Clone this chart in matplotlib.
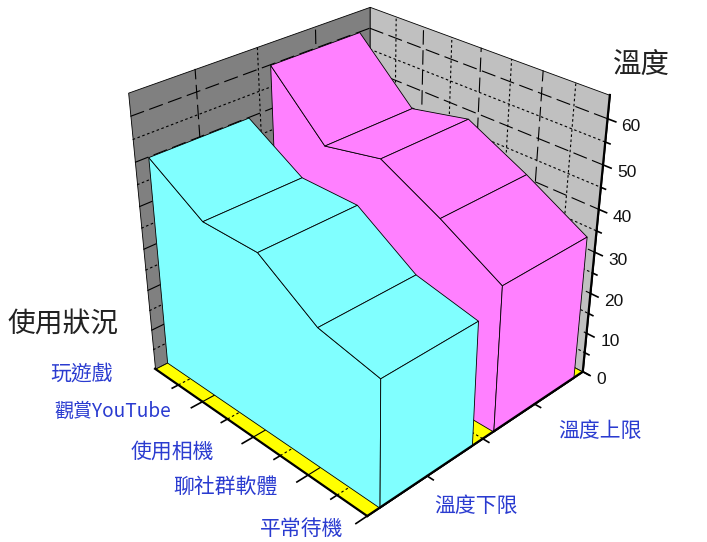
import numpy as np
import matplotlib
matplotlib.use('Agg')
import matplotlib.pyplot as plt
from mpl_toolkits.mplot3d import proj3d
from mpl_toolkits.mplot3d.art3d import Poly3DCollection

plt.rcParams['font.family'] = ['Noto Sans CJK TC', 'DejaVu Sans']

# data
usage = ['玩遊戲', '觀賞YouTube', '使用相機', '聊社群軟體', '平常待機']
series = ['溫度下限', '溫度上限']
temp_low = [50, 42, 42, 33, 30]
temp_high = [60, 47, 50, 43, 35]
z_ticks = [0, 10, 20, 30, 40, 50, 60]

W, H = 707, 542
XMAX, YMAX, ZMAX = 4, 2, 65
LONG = (0, (13, 5))
SHORT = (0, (2.3, 2.3))

fig = plt.figure(figsize=(W/100, H/100), dpi=100)
ax = fig.add_subplot(projection='3d', computed_zorder=False)
ax.set_xlim(0, XMAX, view_margin=0)
ax.set_ylim(0, YMAX, view_margin=0)
ax.set_zlim(0, ZMAX, view_margin=0)
ax.view_init(elev=30.531, azim=-44.508)
ax.set_proj_type('persp', focal_length=0.47)
ax.set_box_aspect((1, 0.994, 0.995))
ax.set_position([92.1/W, 25.3/H, 538.4/W, 538.4/H])
ax.set_axis_off()
ax.patch.set_visible(False)

def poly(verts, color, zorder):
    ax.add_collection3d(Poly3DCollection([verts], facecolor=color, edgecolor='black',
                                         linewidth=0.6, zorder=zorder, clip_on=False))

def line(xs, ys, zs, ls='-', lw=0.8, zorder=2):
    ax.plot(xs, ys, zs, color='black', ls=ls, lw=lw, zorder=zorder, clip_on=False)

# walls and floor
poly([(0, 0, 0), (0, YMAX, 0), (0, YMAX, ZMAX), (0, 0, ZMAX)], '#808080', 1)
poly([(XMAX, YMAX, 0), (0, YMAX, 0), (0, YMAX, ZMAX), (XMAX, YMAX, ZMAX)], '#C0C0C0', 1)
poly([(0, 0, 0), (XMAX, 0, 0), (XMAX, YMAX, 0), (0, YMAX, 0)], '#FFFF00', 1)

# wall grid
for z in np.arange(5, ZMAX, 5):
    ls = LONG if z % 10 == 0 else SHORT
    line([0, 0], [0, YMAX], [z, z], ls)
    line([0, XMAX], [YMAX, YMAX], [z, z], ls)
for y, ls in zip([0.5, 1, 1.5], [LONG, SHORT, LONG]):
    line([0, 0], [y, y], [0, ZMAX], ls)
    line([XMAX, 0], [y, y], [0, 0], ls)
for x in np.arange(0.5, XMAX, 0.5):
    ls = LONG if x % 1 == 0 else SHORT
    line([x, x], [YMAX, YMAX], [0, ZMAX], ls)
    line([x, x], [0, YMAX], [0, 0], ls)

# ribbons
xs = np.arange(len(usage))
def ribbon(yc, vals, color, base):
    y0, y1 = yc - 0.4, yc + 0.4
    side = [(x, y0, v) for x, v in zip(xs, vals)]
    poly([(xs[0], y0, 0)] + side + [(xs[-1], y0, 0)], color, base)
    for i in range(len(xs) - 1):
        poly([(xs[i], y0, vals[i]), (xs[i+1], y0, vals[i+1]),
              (xs[i+1], y1, vals[i+1]), (xs[i], y1, vals[i])], color, base + 0.1)
    poly([(xs[-1], y0, 0), (xs[-1], y1, 0), (xs[-1], y1, vals[-1]), (xs[-1], y0, vals[-1])], color, base + 0.2)

ribbon(1.5, temp_high, '#FF80FF', 3)
ribbon(0.5, temp_low, '#80FFFF', 4)

# axes and ticks
line([0, XMAX], [0, 0], [0, 0], lw=1.6, zorder=6)
line([XMAX, XMAX], [0, YMAX], [0, 0], lw=1.6, zorder=6)
line([XMAX, XMAX], [YMAX, YMAX], [0, ZMAX], lw=1.6, zorder=6)
for x in np.arange(0.5, XMAX + 0.5, 0.5):
    d = 0.09 if x % 1 == 0 else 0.05
    line([x, x], [0, -d], [0, 0], lw=1.2, zorder=6)
for y in np.arange(0.5, YMAX + 0.5, 0.5):
    line([XMAX, XMAX + 0.1], [y, y], [0, 0], lw=1.2, zorder=6)
for z in np.arange(0, ZMAX, 5):
    d = 0.12 if z % 10 == 0 else 0.07
    line([XMAX, XMAX + d], [YMAX, YMAX], [z, z], lw=1.2, zorder=6)

# z tick labels sit right of their ticks
M = ax.get_proj()
for z in z_ticks:
    u, v, _ = proj3d.proj_transform(XMAX, YMAX, z, M)
    ax.annotate(str(z), (u, v), xytext=(14*0.72, -8*0.72), textcoords='offset points',
                ha='left', va='center', fontsize=12.5, family='Liberation Sans', color='#111111',
                annotation_clip=False)

def label(px, py, s, size, color):
    fig.text(px/W, 1 - py/H, s, fontsize=size, color=color, ha='center', va='center')

BLUE = '#2A3BD0'
sizes = [15, 13.7, 15, 15, 15]
for (px, py), s, sz in zip([(82, 374), (113, 411), (172, 452), (225, 487), (302, 529)], usage, sizes):
    label(px, py, s, sz, BLUE)
for (px, py), s in zip([(476, 506), (600, 431)], series):
    label(px, py, s, 15, BLUE)
label(63, 324, '使用狀況', 20, '#222222')
label(641, 66, '溫度', 20.5, '#222222')

fig.savefig('out.png', dpi=100)
